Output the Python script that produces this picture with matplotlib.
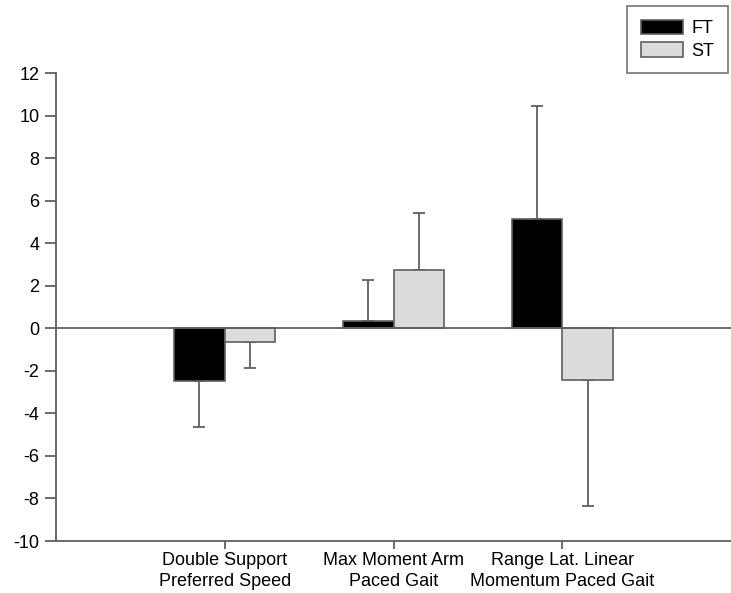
import numpy as np
import matplotlib
matplotlib.use("Agg")
import matplotlib.pyplot as plt

plt.rcParams['font.family'] = ['Liberation Sans', 'DejaVu Sans']
plt.rcParams['axes.unicode_minus'] = False

categories = ["Double Support\nPreferred Speed", "Max Moment Arm\nPaced Gait",
              "Range Lat. Linear\nMomentum Paced Gait"]
ft_values = [-2.5, 0.35, 5.15]
ft_err = [2.13, 1.9, 5.3]
st_values = [-0.65, 2.75, -2.45]
st_err = [1.2, 2.65, 5.9]
y_ticks = [-10, -8, -6, -4, -2, 0, 2, 4, 6, 8, 10, 12]

grey = "#606060"
width = 0.3

fig = plt.figure(figsize=(7.31, 5.93), dpi=100)
ax = fig.add_axes([56 / 731, 1 - 541 / 593, 1 - 56 / 731, (541 - 73) / 593])

x = np.arange(1, len(categories) + 1)


def one_sided(vals, errs):
    # error bar only away from zero
    lo = [e if v < 0 else 0 for v, e in zip(vals, errs)]
    hi = [e if v >= 0 else 0 for v, e in zip(vals, errs)]
    return [lo, hi]


b1 = ax.bar(x - width / 2, ft_values, width, color="black", edgecolor=grey,
            linewidth=1.2, label="FT", zorder=3)
b2 = ax.bar(x + width / 2, st_values, width, color="#dcdcdc", edgecolor=grey,
            linewidth=1.2, label="ST", zorder=3)
ax.errorbar(x - width / 2, ft_values, yerr=one_sided(ft_values, ft_err), fmt="none",
            ecolor=grey, elinewidth=1.3, capsize=4.5, capthick=1.3, zorder=2)
ax.errorbar(x + width / 2, st_values, yerr=one_sided(st_values, st_err), fmt="none",
            ecolor=grey, elinewidth=1.3, capsize=4.5, capthick=1.3, zorder=2)

ax.axhline(0, color=grey, linewidth=1.3, zorder=4)

ax.set_xlim(0, 4)
ax.set_ylim(-10, 12)
ax.set_yticks(y_ticks)
ax.set_xticks(x)
ax.set_xticklabels(categories, fontsize=13, linespacing=1.3)
ax.tick_params(axis="y", labelsize=13, length=8, width=1.3, color=grey, pad=4)
ax.tick_params(axis="x", length=6, width=1.3, color=grey, pad=2)

for side in ["top", "right"]:
    ax.spines[side].set_visible(False)
for side in ["left", "bottom"]:
    ax.spines[side].set_color(grey)
    ax.spines[side].set_linewidth(1.3)

leg = fig.legend(handles=[b1, b2], loc="upper right",
                 bbox_to_anchor=(728 / 731, 1 - 6 / 593), fontsize=13,
                 fancybox=False, frameon=True, edgecolor=grey, borderaxespad=0,
                 handlelength=2.35, handleheight=0.85, labelspacing=0.3,
                 borderpad=0.75, handletextpad=0.45)
leg.get_frame().set_linewidth(1.3)

fig.savefig("out.png", dpi=100)
